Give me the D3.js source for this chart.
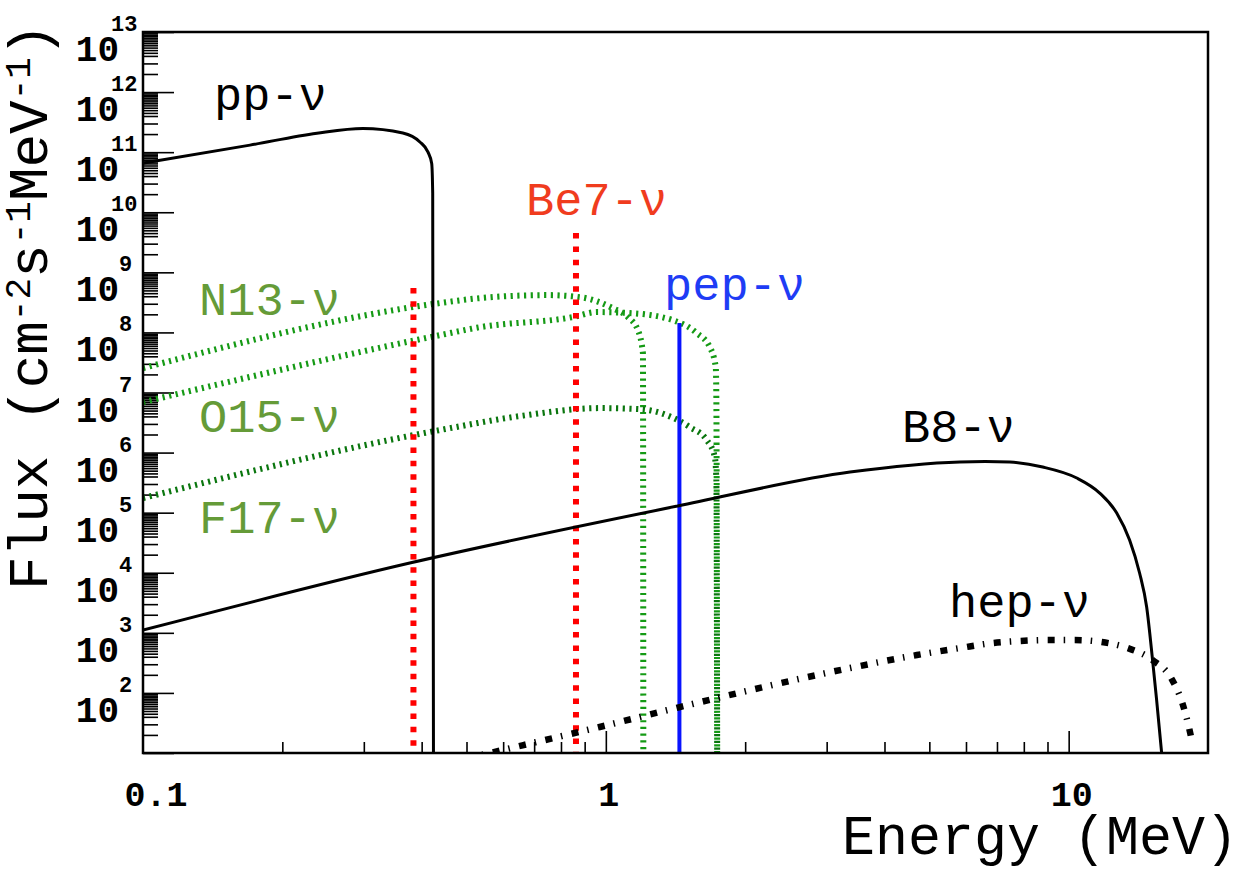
<!DOCTYPE html>
<html><head><meta charset="utf-8">
<script src="https://cdn.jsdelivr.net/npm/d3@7"></script>
<style>body{margin:0;background:#fff} svg{display:block}</style>
</head><body><svg id="c" width="1241" height="871"></svg>
<script>
// ---------- data (energy MeV, flux cm^-2 s^-1 MeV^-1) ----------
const ppE  = [0.1, 0.1703, 0.2376, 0.2986, 0.3643, 0.3965, 0.4126, 0.4205, 0.4226, 0.4242];
const ppF  = [6.56e10, 1.31e11, 2.07e11, 2.48e11, 2.09e11, 1.48e11, 1.01e11, 6.5e10, 2.08e10, 10];

const n13E = [0.1, 0.438, 0.534, 0.746, 0.880, 1.035, 1.116, 1.173, 1.2026, 1.2035, 1.205];
const n13F = [2.55e7, 3.08e8, 3.72e8, 4.18e8, 3.86e8, 2.53e8, 1.8e8, 1.09e8, 4.53e7, 7.4e6, 10];

const o15E = [0.1, 0.438, 0.534, 0.849, 0.956, 1.127, 1.395, 1.573, 1.677, 1.728, 1.733, 1.740];
const o15F = [6.92e6, 9.0e7, 1.22e8, 1.8e8, 2.18e8, 2.1e8, 1.6e8, 9.7e7, 5.7e7, 2.65e7, 7.5e6, 10];

const f17E = [0.1, 0.438, 0.652, 0.970, 1.184, 1.354, 1.519, 1.653, 1.720, 1.733, 1.740];
const f17F = [1.75e5, 2.37e6, 4.05e6, 5.5e6, 5.29e6, 4.2e6, 2.65e6, 1.61e6, 8.4e5, 3.5e5, 10];

const b8E  = [0.1, 0.377, 1.43, 3.37, 5.82, 6.6, 7.46, 8.79, 10.41, 11.67, 12.70, 13.54, 14.23, 14.74, 15.18, 15.49, 15.88];
const b8F  = [1.11e3, 1.45e4, 1.29e5, 4.74e5, 7.0e5, 7.1e5, 6.95e5, 5.74e5, 3.77e5, 2.12e5, 9.84e4, 3.5e4, 9.9e3, 2.69e3, 352, 76, 10];

const hepE = [0.5, 0.5615, 0.970, 1.445, 3.365, 4.70, 5.82, 6.85, 7.84, 9.01, 10.3, 11.79, 13.41, 15.18, 16.70, 17.6, 18.25, 18.5];
const hepF = [8.1, 10, 27.1, 58.2, 259, 427, 558, 676, 731, 759, 759, 703, 558, 352, 170, 68, 24, 14.7];

const be7E = [0.384, 0.862];
const be7F = [5.5e8, 4.5e9];
const pepE = [1.442];
const pepF = [1.43e8];

const xTickLabels = ["0.1", "1", "10"];
const xTickValues = [0.1, 1, 10];
const yExponents  = [2,3,4,5,6,7,8,9,10,11,12,13];

// ---------- setup ----------
const svg = d3.select('#c');
const L = 143, R = 1208, T = 32, B = 753;
const x = d3.scaleLog().domain([0.1, 20]).range([L, R]);
const y = d3.scaleLog().domain([10, 1e13]).range([B, T]);
const mono = "'Liberation Mono','Courier New',monospace";

svg.append('defs').append('clipPath').attr('id','clip')
  .append('rect').attr('x',L).attr('y',T).attr('width',R-L).attr('height',B-T);

// ---------- ticks ----------
const yMajor = d3.range(1, 14).map(e => Math.pow(10, e));
const yMinor = [];
for (let e = 1; e < 13; e++) for (const k of [2,3,4,4.5,5,5.5,6,6.5,7,7.5,8,8.5,9,9.5]) yMinor.push(k*Math.pow(10,e));
const xMinor = [];
for (const d of [0.1, 1]) for (let k = 2; k <= 9; k++) xMinor.push(k*d);

function styleAxis(g){ g.select('.domain').remove(); g.selectAll('line').attr('stroke','#000').attr('stroke-width',1.6); }

svg.append('g').attr('transform',`translate(${L},0)`)
  .call(d3.axisLeft(y).tickValues(yMinor).tickSize(-15).tickFormat('')).call(styleAxis);
svg.append('g').attr('transform',`translate(${L},0)`)
  .call(d3.axisLeft(y).tickValues(yMajor).tickSize(-31).tickFormat('')).call(styleAxis);
svg.append('g').attr('transform',`translate(0,${B})`)
  .call(d3.axisBottom(x).tickValues(xMinor).tickSize(-11).tickFormat('')).call(styleAxis);
svg.append('g').attr('transform',`translate(0,${B})`)
  .call(d3.axisBottom(x).tickValues([1,10]).tickSize(-22).tickFormat('')).call(styleAxis);

// ---------- tick labels ----------
const yl = svg.append('g').attr('font-family', mono).attr('font-weight','bold').attr('fill','#000');
yExponents.forEach(e => {
  const yy = y(Math.pow(10, e));
  yl.append('text').attr('x',119).attr('y',yy+29).attr('text-anchor','end').attr('font-size',36).text('10');
  yl.append('text').attr('x', e >= 10 ? 111 : 119).attr('y',yy-1).attr('font-size',22).text(String(e));
});
const xl = svg.append('g').attr('font-family', mono).attr('font-weight','bold').attr('fill','#000');
xTickValues.forEach((v,i) => {
  xl.append('text').attr('x', x(v) + (i===0 ? 13 : 3)).attr('y',806)
    .attr('text-anchor','middle').attr('font-size',35).text(xTickLabels[i]);
});

// ---------- axis titles ----------
svg.append('text').attr('x',1238).attr('y',854).attr('text-anchor','end')
  .attr('font-family',mono).attr('font-size',55).attr('fill','#000').text('Energy (MeV)');

const yt = svg.append('text').attr('transform','translate(47,590) rotate(-90)')
  .attr('font-family',mono).attr('font-size',56).attr('fill','#000');
const parts = [["Flux (cm",0],["-2",1],["s",0],["-1",1],["MeV",0],["-1",1],[")",0]];
let prevSup = 0;
parts.forEach(([t,s]) => {
  const dy = s && !prevSup ? -17 : (!s && prevSup ? 17 : 0);
  yt.append('tspan').attr('dy',dy).attr('font-size', s ? 36 : 56).text(t);
  prevSup = s;
});

// ---------- curves ----------
const plot = svg.append('g').attr('clip-path','url(#clip)');
const line = d3.line().x(d => x(d[0])).y(d => y(d[1])).curve(d3.curveMonotoneX);
const zip = (a,b) => a.map((v,i) => [v, b[i]]);

function curve(E, F, color, w, dash){
  plot.append('path').datum(zip(E,F)).attr('d', line)
    .attr('fill','none').attr('stroke',color).attr('stroke-width',w)
    .attr('stroke-dasharray', dash || null).attr('stroke-linejoin','round');
}
curve(n13E, n13F, '#159a15', 6, '2.2 4.5');
curve(o15E, o15F, '#159a15', 6, '2.2 4.5');
curve(f17E, f17F, '#0a760e', 6, '2.2 4.5');

// Be7 lines
be7E.forEach((e,i) => {
  plot.append('line').attr('x1',x(e)).attr('x2',x(e)).attr('y1',y(be7F[i])).attr('y2',y(10))
    .attr('stroke','#ff0000').attr('stroke-width',6).attr('stroke-dasharray','5.5 7.8');
});
// pep line
pepE.forEach((e,i) => {
  plot.append('line').attr('x1',x(e)).attr('x2',x(e)).attr('y1',y(pepF[i])).attr('y2',y(10))
    .attr('stroke','#0a14ff').attr('stroke-width',4);
});

curve(ppE, ppF, '#000', 3);
curve(b8E, b8F, '#000', 3);
curve(hepE, hepF, '#000', 6.5, '7 9 1.5 9.5');

// ---------- frame ----------
svg.append('rect').attr('x',L).attr('y',T).attr('width',R-L).attr('height',B-T)
  .attr('fill','none').attr('stroke','#000').attr('stroke-width',2.5);

// ---------- curve labels ----------
const lab = svg.append('g').attr('font-family',mono).attr('font-size',47);
lab.append('text').attr('x',214).attr('y',110).attr('fill','#000').text('pp-ν');
lab.append('text').attr('x',526).attr('y',215).attr('fill','#f03c1e').text('Be7-ν');
lab.append('text').attr('x',664).attr('y',300).attr('fill','#1e3cf5').text('pep-ν');
lab.append('text').attr('x',199).attr('y',315).attr('fill','#659b38').text('N13-ν');
lab.append('text').attr('x',199).attr('y',432).attr('fill','#659b38').text('O15-ν');
lab.append('text').attr('x',199).attr('y',533).attr('fill','#659b38').text('F17-ν');
lab.append('text').attr('x',902).attr('y',442).attr('fill','#000').text('B8-ν');
lab.append('text').attr('x',949).attr('y',617).attr('fill','#000').text('hep-ν');
</script></body></html>
